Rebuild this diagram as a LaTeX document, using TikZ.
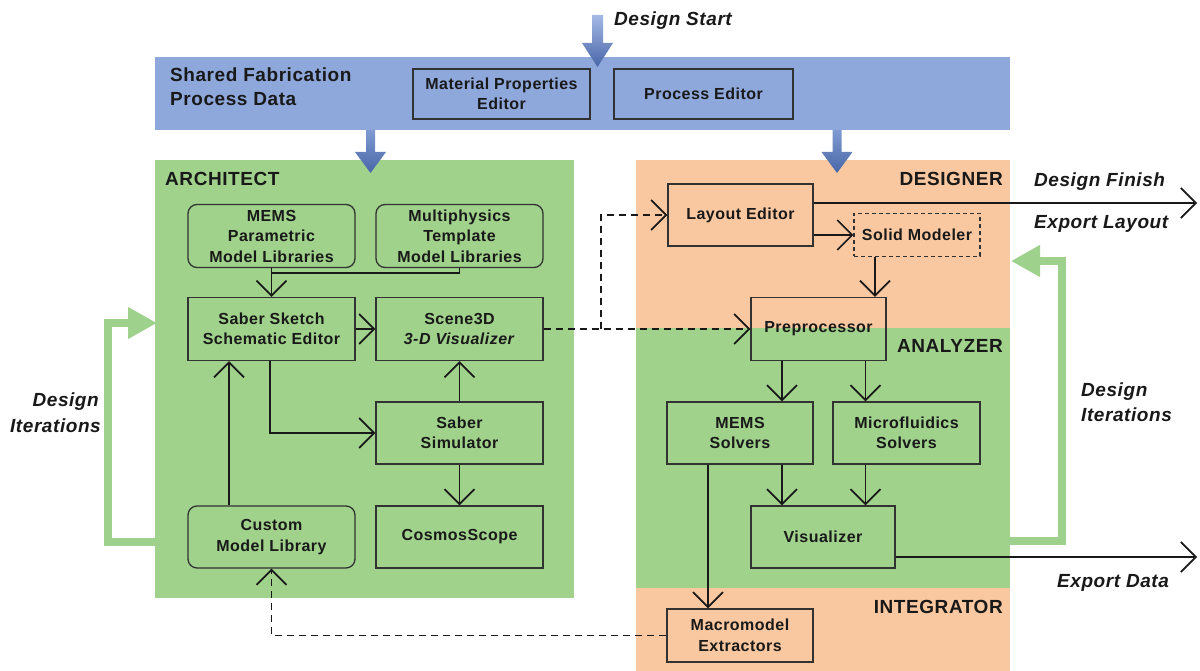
\documentclass[tikz,border=0pt]{standalone}
\usepackage{fontspec}
\setmainfont{Liberation Sans}[LetterSpace=3]
\usetikzlibrary{arrows.meta}
\definecolor{bandblue}{RGB}{142,168,220}
\definecolor{regiongreen}{RGB}{160,210,140}
\definecolor{regionorange}{RGB}{250,200,160}
\definecolor{loopgreen}{RGB}{158,210,140}
\definecolor{arrowtop}{RGB}{165,185,230}
\definecolor{arrowbot}{RGB}{72,102,168}
\definecolor{ink}{RGB}{25,25,25}
\definecolor{edgegray}{RGB}{50,50,50}
\newcommand\bxfont{\fontsize{16}{20.5}\selectfont\bfseries}
\newcommand\lblfont{\fontsize{19}{24}\selectfont\bfseries}
\newcommand\ilblfont{\fontsize{19}{24}\selectfont\bfseries\itshape}
\begin{document}
\begin{tikzpicture}[x=1pt,y=-1pt,
  blk/.style={draw=edgegray,line width=1.3pt,align=center,inner sep=0pt,font=\bxfont,text=ink},
  rblk/.style={blk,rounded corners=9pt},
  dblk/.style={blk,dash pattern=on 4pt off 3pt,line width=1.1pt},
  lbl/.style={inner sep=0pt,font=\lblfont,text=ink},
  ilbl/.style={inner sep=0pt,font=\ilblfont,text=ink},
  conn/.style={draw=ink,line width=1.7pt},
  arr/.style={-{Straight Barb[length=15pt,width=30pt]}},
  dsh/.style={dash pattern=on 7pt off 5pt},
  gloop/.style={draw=loopgreen,line width=7.5pt,line join=miter,-{Triangle[length=29pt,width=30pt]}}
]
\useasboundingbox (0,0) rectangle (1200,671);
\fill[white] (0,0) rectangle (1200,671);
% regions
\fill[bandblue] (155,57) rectangle (1010,130);
\fill[regiongreen] (155,160) rectangle (574,598);
\fill[regionorange] (636,160) rectangle (1010,328);
\fill[regiongreen] (636,328) rectangle (1010,588);
\fill[regionorange] (636,588) rectangle (1010,671);
% thick blue arrows
\shade[top color=arrowtop,bottom color=arrowbot] (592,15) -- (603,15) -- (603,43) -- (613,43) -- (597.5,67) -- (582,43) -- (592,43) -- cycle;
\shade[top color=bandblue!80!arrowbot,bottom color=arrowbot] (366,130) -- (375,130) -- (375,152) -- (386,152) -- (370.5,173) -- (355,152) -- (366,152) -- cycle;
\shade[top color=bandblue!80!arrowbot,bottom color=arrowbot] (832.5,130) -- (841.5,130) -- (841.5,152) -- (852.5,152) -- (837,173) -- (821.5,152) -- (832.5,152) -- cycle;
% labels
\node[lbl,anchor=base west] (t1) at (170,82) {Shared Fabrication};
\node[lbl,anchor=base west] (t2) at (170,106) {Process Data};
\node[ilbl,anchor=base west] (dstart) at (614,26) {Design Start};
\node[lbl,anchor=base west] (archlbl) at (165,186) {ARCHITECT};
\node[lbl,anchor=base east] (deslbl) at (1003,186) {DESIGNER};
\node[lbl,anchor=base east] (analbl) at (1003,352) {ANALYZER};
\node[lbl,anchor=base east] (intlbl) at (1003,613) {INTEGRATOR};
\node[ilbl,anchor=base west] (dfinish) at (1034,187) {Design Finish};
\node[ilbl,anchor=base west] (elayout) at (1034,229) {Export Layout};
\node[ilbl,anchor=base west] (edata) at (1057,587) {Export Data};
\node[ilbl,anchor=base west] (rdi1) at (1081,396) {Design};
\node[ilbl,anchor=base west] (rdi2) at (1081,421) {Iterations};
\node[ilbl,anchor=base east] (ldi1) at (99,406) {Design};
\node[ilbl,anchor=base east] (ldi2) at (101,432) {Iterations};
% boxes
\node[blk,minimum width=177pt,minimum height=50pt] (matprop) at (501.5,94) {Material Properties\\Editor};
\node[blk,minimum width=179pt,minimum height=50pt] (proced) at (703.5,94) {Process Editor};
\node[rblk,minimum width=167pt,minimum height=63pt] (memslib) at (271.5,236) {MEMS\\Parametric\\Model Libraries};
\node[rblk,minimum width=167pt,minimum height=63pt] (multilib) at (459.5,236) {Multiphysics\\Template\\Model Libraries};
\node[blk,minimum width=167pt,minimum height=63pt] (sketch) at (271.5,329) {Saber Sketch\\Schematic Editor};
\node[blk,minimum width=167pt,minimum height=63pt] (scene) at (459.5,329) {Scene3D\\\textit{3-D Visualizer}};
\node[blk,minimum width=167pt,minimum height=62pt] (sim) at (459.5,433) {Saber\\Simulator};
\node[rblk,minimum width=167pt,minimum height=62pt] (custom) at (271.5,537) {Custom\\Model Library};
\node[blk,minimum width=167pt,minimum height=62pt] (cosmos) at (459.5,537) {CosmosScope};
\node[blk,minimum width=145pt,minimum height=62pt] (layout) at (740.5,215) {Layout Editor};
\node[dblk,minimum width=126pt,minimum height=43pt] (solid) at (917,235) {Solid Modeler};
\node[blk,minimum width=135pt,minimum height=63pt] (prep) at (818.5,329) {Preprocessor};
\node[blk,minimum width=146pt,minimum height=62pt] (memssolv) at (740,433) {MEMS\\Solvers};
\node[blk,minimum width=147pt,minimum height=62pt] (micro) at (906.5,433) {Microfluidics\\Solvers};
\node[blk,minimum width=144pt,minimum height=62pt] (vis) at (823,537) {Visualizer};
\node[blk,minimum width=146pt,minimum height=53pt] (macro) at (740,635.5) {Macromodel\\Extractors};
% helper coordinates
\coordinate (jn) at (271.5,273);
\coordinate (br) at (601,329);
\coordinate (finish) at (1197,203);
\coordinate (expdata) at (1197,557);
\coordinate (xa) at (875,0);
\coordinate (xb) at (782,0);
\coordinate (xc) at (865.5,0);
\coordinate (xd) at (708,0);
\coordinate (xe) at (229,0);
\coordinate (xf) at (270,0);
\coordinate (lA) at (158,542);
\coordinate (lB) at (157,323);
\coordinate (rA) at (1008,541);
\coordinate (rB) at (1011,261);
% connectors
\draw[conn,arr] (memslib) -- (sketch);
\draw[conn] (multilib.south) |- (jn);
\draw[conn,arr] (sketch) -- (scene);
\draw[conn,arr] (sim) -- (scene);
\draw[conn,arr] (sketch.south -| xf) |- (sim.west);
\draw[conn,arr] (custom.north -| xe) -- (sketch.south -| xe);
\draw[conn,arr] (sim) -- (cosmos);
\draw[conn,dsh,arr] (scene.east) -- (prep.west);
\draw[conn,dsh,arr] (br) |- (layout.west);
\draw[conn,arr] (layout.east |- solid.west) -- (solid.west);
\draw[conn,arr] (layout.east |- finish) -- (finish);
\draw[conn,arr] (solid.south -| xa) -- (prep.north -| xa);
\draw[conn,arr] (prep.south -| xb) -- (memssolv.north -| xb);
\draw[conn,arr] (prep.south -| xc) -- (micro.north -| xc);
\draw[conn,arr] (memssolv.south -| xb) -- (vis.north -| xb);
\draw[conn,arr] (micro.south -| xc) -- (vis.north -| xc);
\draw[conn,arr] (memssolv.south -| xd) -- (macro.north -| xd);
\draw[conn,arr] (vis.east |- expdata) -- (expdata);
\draw[conn,dsh,arr] (macro.west) -| (custom.south);
% green iteration loops
\draw[gloop] (lA) -- (108,542) -- (108,323) -- (lB);
\draw[gloop] (rA) -- (1062,541) -- (1062,261) -- (rB);
\end{tikzpicture}
\end{document}
